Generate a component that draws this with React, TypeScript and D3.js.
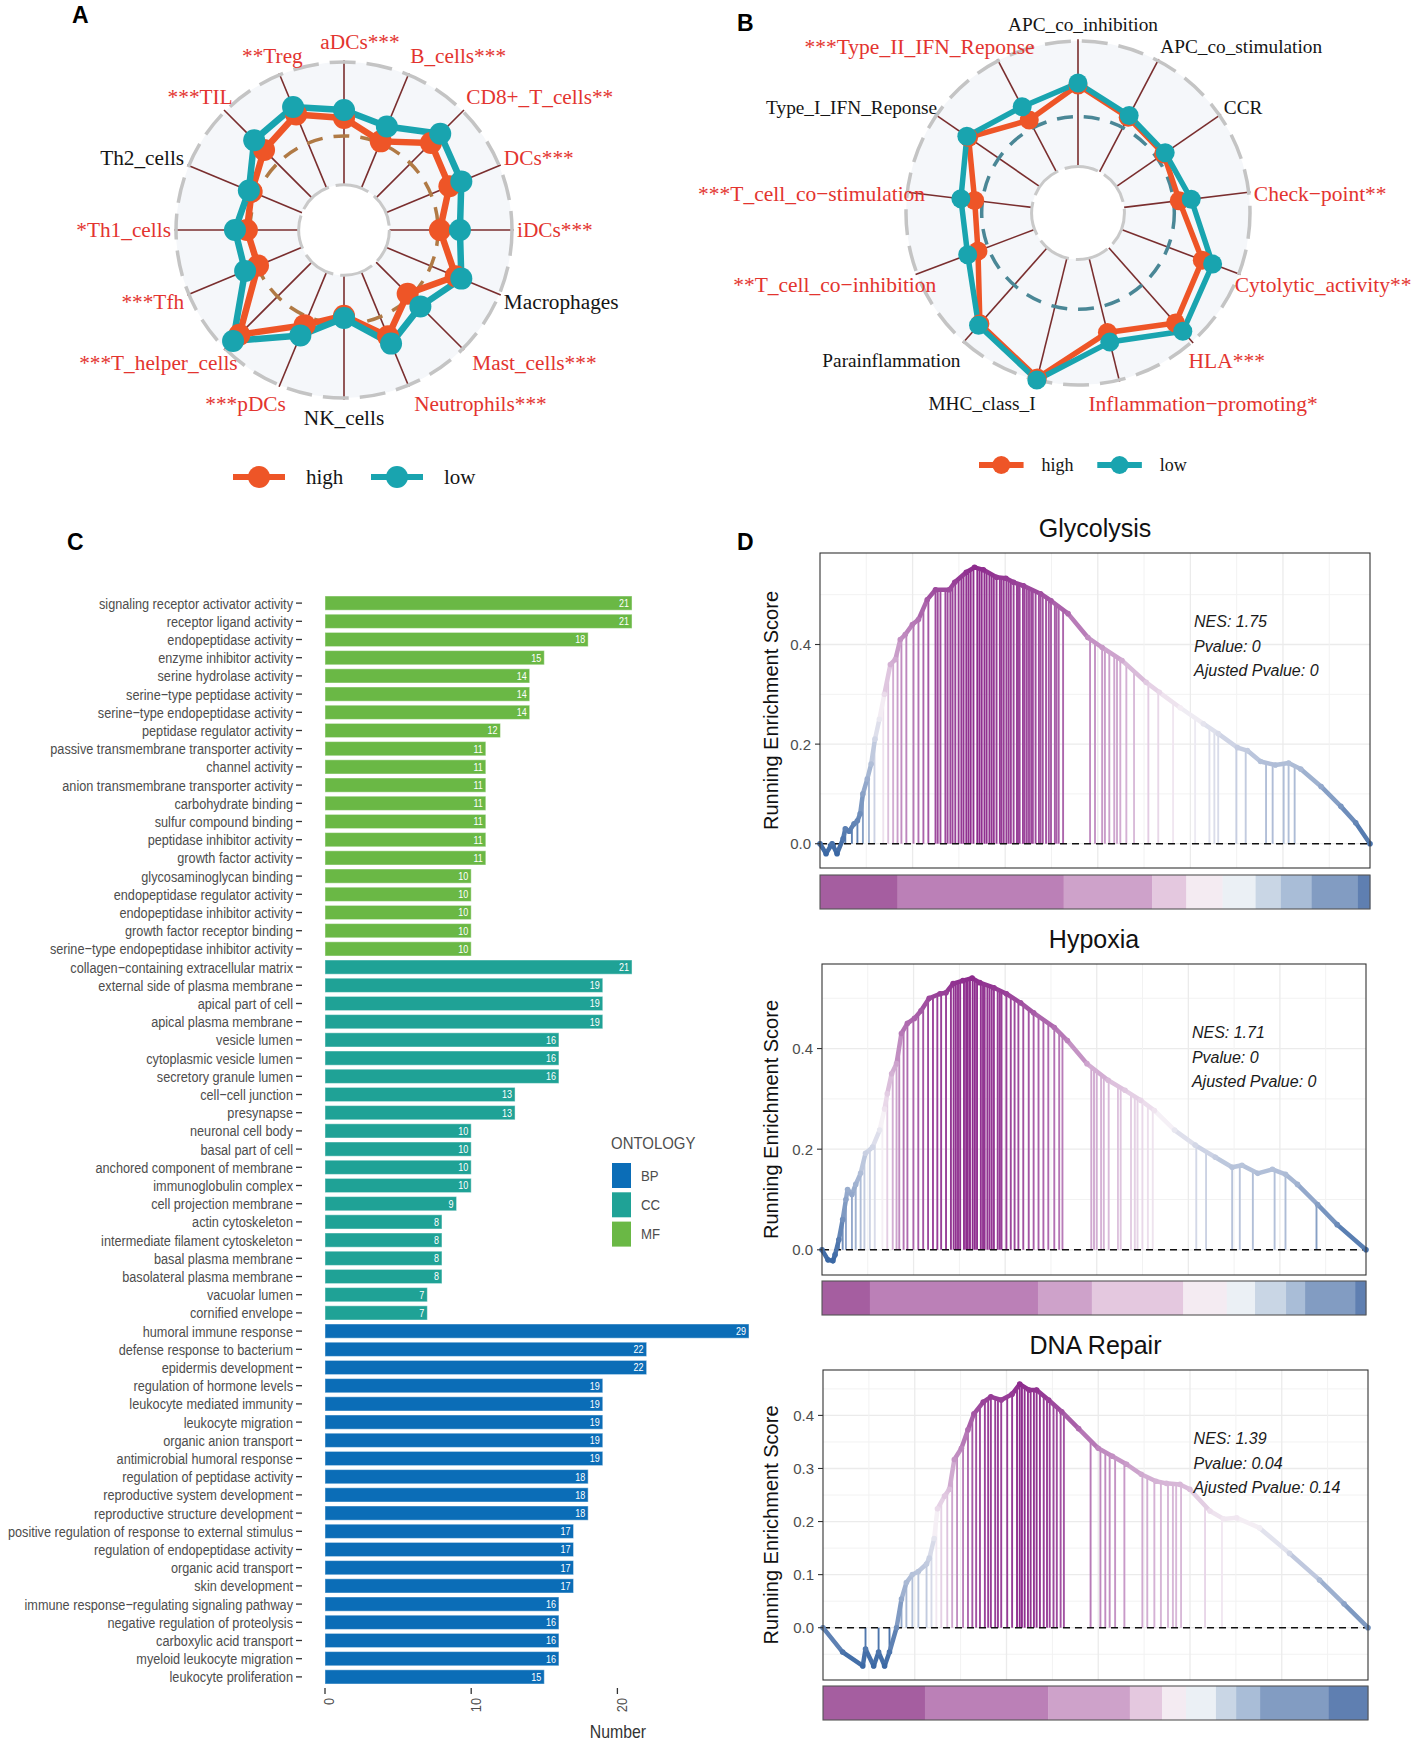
import React from "react";
import * as d3 from "d3";

const W = 1417;
const H = 1741;
const SERIF = "'Liberation Serif', 'Times New Roman', serif";
const SANS = "'Liberation Sans', Arial, sans-serif";
const HIGH = "#EE5527";
const LOW = "#19A4AF";
const RED = "#E3342F";

// ---------- A: immune cells (radius as fraction of outer ring)
const immuneCells = [
  "aDCs***", "B_cells***", "CD8+_T_cells**", "DCs***", "iDCs***", "Macrophages",
  "Mast_cells***", "Neutrophils***", "NK_cells", "***pDCs", "***T_helper_cells",
  "***Tfh", "*Th1_cells", "Th2_cells", "***TIL", "**Treg",
];
const immuneHigh = [0.667, 0.571, 0.732, 0.679, 0.571, 0.72, 0.536, 0.685, 0.51, 0.613, 0.881, 0.554, 0.578, 0.595, 0.673, 0.744];
const immuneLow = [0.714, 0.667, 0.81, 0.756, 0.69, 0.756, 0.643, 0.732, 0.524, 0.679, 0.934, 0.637, 0.649, 0.613, 0.756, 0.792];

// ---------- B: immune functions
const immuneFunctions = [
  "APC_co_inhibition", "APC_co_stimulation", "CCR", "Check−point**", "Cytolytic_activity**",
  "HLA***", "Inflammation−promoting*", "MHC_class_I", "Parainflammation",
  "**T_cell_co−inhibition", "***T_cell_co−stimulation", "Type_I_IFN_Reponse", "***Type_II_IFN_Reponse",
];
const functionHigh = [0.744, 0.628, 0.605, 0.593, 0.773, 0.855, 0.715, 0.988, 0.86, 0.622, 0.605, 0.773, 0.61];
const functionLow = [0.756, 0.64, 0.616, 0.663, 0.837, 0.919, 0.773, 1.0, 0.872, 0.686, 0.686, 0.785, 0.698];

// ---------- C: GO enrichment
const mfTerms = [
  "signaling receptor activator activity", "receptor ligand activity", "endopeptidase activity",
  "enzyme inhibitor activity", "serine hydrolase activity", "serine−type peptidase activity",
  "serine−type endopeptidase activity", "peptidase regulator activity",
  "passive transmembrane transporter activity", "channel activity",
  "anion transmembrane transporter activity", "carbohydrate binding", "sulfur compound binding",
  "peptidase inhibitor activity", "growth factor activity", "glycosaminoglycan binding",
  "endopeptidase regulator activity", "endopeptidase inhibitor activity",
  "growth factor receptor binding", "serine−type endopeptidase inhibitor activity",
];
const mfCounts = [21, 21, 18, 15, 14, 14, 14, 12, 11, 11, 11, 11, 11, 11, 11, 10, 10, 10, 10, 10];
const ccTerms = [
  "collagen−containing extracellular matrix", "external side of plasma membrane", "apical part of cell",
  "apical plasma membrane", "vesicle lumen", "cytoplasmic vesicle lumen", "secretory granule lumen",
  "cell−cell junction", "presynapse", "neuronal cell body", "basal part of cell",
  "anchored component of membrane", "immunoglobulin complex", "cell projection membrane",
  "actin cytoskeleton", "intermediate filament cytoskeleton", "basal plasma membrane",
  "basolateral plasma membrane", "vacuolar lumen", "cornified envelope",
];
const ccCounts = [21, 19, 19, 19, 16, 16, 16, 13, 13, 10, 10, 10, 10, 9, 8, 8, 8, 8, 7, 7];
const bpTerms = [
  "humoral immune response", "defense response to bacterium", "epidermis development",
  "regulation of hormone levels", "leukocyte mediated immunity", "leukocyte migration",
  "organic anion transport", "antimicrobial humoral response", "regulation of peptidase activity",
  "reproductive system development", "reproductive structure development",
  "positive regulation of response to external stimulus", "regulation of endopeptidase activity",
  "organic acid transport", "skin development", "immune response−regulating signaling pathway",
  "negative regulation of proteolysis", "carboxylic acid transport", "myeloid leukocyte migration",
  "leukocyte proliferation",
];
const bpCounts = [29, 22, 22, 19, 19, 19, 19, 19, 18, 18, 18, 17, 17, 17, 17, 16, 16, 16, 16, 15];
const ontologies = ["BP", "CC", "MF"];
const ontologyColors = ["#0B6DB7", "#1FA296", "#6AB845"];
const countTicks = [0, 10, 20];

// ---------- D: GSEA (x = % of ranked list, y = running ES)
const rankedGenes = 11880;
const gseaTitles = ["Glycolysis", "Hypoxia", "DNA Repair"];
const gseaNES = ["1.75", "1.71", "1.39"];
const gseaPvalue = ["0", "0", "0.04"];
const gseaPadj = ["0", "0", "0.14"];

const glycolysisCurve = [
  [0, 0], [1.1, -0.02], [2.2, 0], [3.1, -0.02], [4.2, 0.01], [4.6, 0.03], [5.3, 0.025], [6.2, 0.04],
  [6.8, 0.046], [7.3, 0.06], [7.8, 0.1], [8.6, 0.13], [9.3, 0.16], [10.0, 0.21], [10.8, 0.25],
  [11.7, 0.3], [12.8, 0.36], [13.7, 0.37], [14.6, 0.41], [15.5, 0.42], [16.8, 0.44], [17.9, 0.45],
  [19.5, 0.49], [21.0, 0.51], [23.5, 0.51], [24.5, 0.525], [26.6, 0.545], [28.1, 0.555], [29.7, 0.55],
  [32.1, 0.535], [33.8, 0.533], [35.2, 0.525], [37.0, 0.518], [40.1, 0.502], [42.0, 0.488],
  [45.1, 0.462], [48.7, 0.414], [51.3, 0.394], [54.9, 0.368], [59.3, 0.324], [61.7, 0.304],
  [65.5, 0.273], [69.7, 0.241], [72.4, 0.221], [75.9, 0.193], [77.7, 0.187], [80.1, 0.165],
  [82.8, 0.158], [85.2, 0.162], [87.4, 0.15], [91.1, 0.115], [94.7, 0.075], [97.4, 0.042], [100, 0],
];
const glycolysisHits = [
  1.6, 2.7, 3.8, 4.6, 5.8, 6.8, 7.8, 8.9, 9.9, 11.5, 12.4, 13.3, 14.1, 14.8, 15.7, 17.0, 17.9, 18.8,
  19.7, 21.0, 21.4, 21.9, 22.8, 23.2, 23.7, 24.1, 24.6, 25.2, 25.7, 26.1, 26.6, 27.0, 27.4, 27.9, 28.6,
  29.0, 29.4, 29.9, 30.3, 30.8, 31.2, 31.6, 32.1, 32.7, 33.0, 33.4, 33.9, 34.3, 34.7, 35.2, 35.8, 36.0,
  36.3, 36.9, 37.2, 37.6, 38.0, 38.4, 38.7, 39.2, 39.8, 40.1, 40.5, 41.1, 41.6, 42.0, 42.7, 43.0, 43.4,
  44.2, 49.1, 50.0, 51.3, 51.8, 52.6, 53.5, 54.0, 54.6, 55.7, 57.1, 59.7, 61.5, 64.2, 68.2, 70.8, 71.7,
  72.4, 75.7, 77.4, 81.1, 82.3, 84.3, 85.2, 86.3,
];
const glycolysisBreaks = [0, 14.1, 44.3, 60.4, 66.6, 73.2, 79.2, 83.8, 89.4, 97.8, 100];

const hypoxiaCurve = [
  [0, 0], [1.1, -0.02], [2.0, -0.022], [2.4, -0.01], [3.1, 0.02], [3.8, 0.06], [4.4, 0.1], [4.7, 0.12],
  [5.5, 0.11], [6.2, 0.13], [7.1, 0.152], [8.0, 0.192], [9.3, 0.204], [10.6, 0.238], [11.5, 0.28],
  [12.0, 0.31], [12.8, 0.35], [13.7, 0.37], [14.6, 0.43], [15.7, 0.45], [17.0, 0.46], [18.2, 0.475],
  [19.7, 0.5], [21.7, 0.509], [22.8, 0.511], [24.1, 0.529], [25.9, 0.535], [27.6, 0.54], [29.0, 0.531],
  [31.6, 0.521], [33.9, 0.509], [36.5, 0.491], [38.9, 0.471], [42.7, 0.442], [45.1, 0.416],
  [48.7, 0.37], [52.6, 0.337], [55.7, 0.317], [58.6, 0.297], [61.1, 0.277], [64.8, 0.238],
  [68.6, 0.208], [72.3, 0.184], [75.4, 0.164], [77.2, 0.168], [80.1, 0.152], [82.8, 0.16],
  [85.2, 0.15], [87.4, 0.13], [91.1, 0.09], [94.7, 0.05], [100, 0],
];
const hypoxiaHits = [
  2.4, 3.1, 3.8, 4.4, 5.5, 6.2, 7.1, 7.8, 8.8, 9.7, 11.1, 12.0, 13.0, 13.7, 14.2, 15.0, 15.7, 16.8, 17.7,
  18.6, 19.5, 20.4, 21.2, 21.9, 22.8, 23.7, 24.2, 24.6, 25.0, 25.4, 26.1, 26.5, 26.8, 27.2, 27.7, 28.1,
  28.5, 29.2, 29.6, 29.9, 30.4, 30.8, 31.2, 31.6, 32.3, 32.7, 33.0, 33.9, 34.7, 35.4, 36.1, 37.0, 38.0,
  38.9, 39.8, 40.7, 41.6, 42.7, 43.6, 44.2, 49.5, 50.0, 50.5, 51.3, 51.8, 52.7, 54.4, 54.9, 56.8, 57.5,
  58.0, 58.9, 59.9, 60.8, 68.8, 70.6, 75.4, 76.8, 79.2, 83.2, 85.2, 90.9,
];
const hypoxiaBreaks = [0, 8.8, 39.7, 49.6, 66.4, 74.4, 79.6, 85.3, 88.8, 98.0, 100];

const dnaRepairCurve = [
  [0, 0], [3.6, -0.046], [7.3, -0.072], [7.8, -0.04], [9.3, -0.072], [10.2, -0.046], [11.3, -0.072],
  [12.2, -0.046], [13.5, 0], [14.4, 0.054], [15.3, 0.085], [16.4, 0.1], [17.5, 0.106], [19.0, 0.12],
  [19.5, 0.131], [20.4, 0.168], [21.0, 0.224], [22.3, 0.248], [23.2, 0.261], [24.1, 0.317],
  [25.4, 0.338], [26.6, 0.373], [27.7, 0.403], [29.4, 0.425], [30.8, 0.435], [32.7, 0.429],
  [34.7, 0.44], [36.1, 0.459], [37.8, 0.448], [39.2, 0.448], [41.4, 0.429], [43.8, 0.407],
  [46.9, 0.375], [50.5, 0.338], [53.1, 0.323], [55.7, 0.308], [58.4, 0.289], [61.1, 0.276],
  [63.0, 0.272], [65.5, 0.27], [67.3, 0.261], [71.0, 0.22], [73.5, 0.205], [75.9, 0.207],
  [80.1, 0.188], [85.6, 0.14], [91.1, 0.09], [95.6, 0.045], [100, 0],
];
const dnaRepairHits = [
  7.8, 10.2, 12.2, 13.5, 14.4, 15.3, 16.4, 17.5, 19.0, 19.9, 20.8, 21.7, 22.8, 23.7, 24.6, 25.7, 26.6,
  27.4, 28.1, 28.8, 29.7, 30.3, 30.8, 31.6, 32.1, 32.7, 33.8, 34.7, 35.6, 36.1, 36.5, 37.0, 37.6, 38.1,
  38.7, 39.2, 39.8, 40.5, 41.1, 41.6, 42.3, 42.9, 43.6, 44.2, 49.1, 50.9, 51.8, 52.6, 53.6, 55.3, 58.6,
  59.5, 60.8, 62.0, 63.3, 64.2, 64.8, 65.7, 70.1, 73.2,
];
const dnaRepairBreaks = [0, 18.7, 41.3, 56.3, 62.2, 66.6, 72.1, 75.8, 80.2, 92.8, 100];

const metricColors = ["#A55EA0", "#BB80B7", "#CEA2CA", "#E4C8DF", "#F4EBF2", "#EBF0F5", "#C9D6E5", "#A9BDD7", "#829CC2", "#5F7FB1"];

// ---------------------------------------------------------------------------
// radar layout helpers
const radarGrid = [0.27, 0.56, 1];
// hand tweaks of label placement (px), the original figure nudged a few names
const labelNudge = {
  "aDCs***": 16, "Mast_cells***": 6, "Neutrophils***": 4, "***pDCs": 8, "***T_helper_cells": 16,
  "***TIL": 11, "**Treg": 25,
  "APC_co_inhibition": 5, "HLA***": -7, "Inflammation−promoting*": -32, "**T_cell_co−inhibition": 24,
  "***T_cell_co−stimulation": 23, "Type_I_IFN_Reponse": 5, "***Type_II_IFN_Reponse": 39,
  "Cytolytic_activity**": -9,
};

function Radar({ cx, cy, R, labels, high, low, midColor, fontSize, redSize, dotR, lineW, yShift = 0 }) {
  const n = labels.length;
  const angle = d3.scaleLinear().domain([0, n]).range([0, 2 * Math.PI]);
  const radius = d3.scaleLinear().domain([0, 1]).range([0, R]);
  const at = (i, v) => [cx + radius(v) * Math.sin(angle(i)), cy - radius(v) * Math.cos(angle(i))];
  const ring = d3.line().curve(d3.curveLinearClosed);
  const series = [
    { vals: high, color: HIGH },
    { vals: low, color: LOW },
  ];
  return (
    <g>
      <circle cx={cx} cy={cy} r={radius(1)} fill="#F5F7FA" />
      {labels.map((_, i) => {
        const [x1, y1] = at(i, radarGrid[0]);
        const [x2, y2] = at(i, 1.01);
        return <line key={i} x1={x1} y1={y1} x2={x2} y2={y2} stroke="#7A2E2E" strokeWidth={1.6} />;
      })}
      <circle cx={cx} cy={cy} r={radius(radarGrid[0])} fill="#fff" stroke="#C9C9C9" strokeWidth={3} strokeDasharray="34 7" />
      <circle cx={cx} cy={cy} r={radius(radarGrid[1])} fill="none" stroke={midColor} strokeWidth={3.5} strokeDasharray="16 11" />
      <circle cx={cx} cy={cy} r={radius(radarGrid[2])} fill="none" stroke="#C4C4C4" strokeWidth={3.5} strokeDasharray="26 11" />
      {series.map((s, k) => (
        <path key={k} d={ring(s.vals.map((v, i) => at(i, v)))} fill="none" stroke={s.color} strokeWidth={lineW} strokeLinejoin="round" />
      ))}
      {series.map((s, k) =>
        s.vals.map((v, i) => {
          const [x, y] = at(i, v);
          return <circle key={k + "-" + i} cx={x} cy={y} r={dotR} fill={s.color} />;
        })
      )}
      {labels.map((lab, i) => {
        const s = Math.sin(angle(i));
        const c = Math.cos(angle(i));
        const x = cx + R * 1.03 * s + (labelNudge[lab] || 0);
        const y = cy - (R * 1.06 + 10) * c + yShift;
        const anchor = s > 0.05 ? "start" : s < -0.05 ? "end" : "middle";
        const sig = lab.includes("*");
        return (
          <text key={lab} x={x} y={y} textAnchor={anchor} dominantBaseline="central"
            fontFamily={SERIF} fontSize={sig ? redSize : fontSize} fill={sig ? RED : "#151515"}>
            {lab}
          </text>
        );
      })}
    </g>
  );
}

function RadarLegend({ x0, y, fontSize, dotR }) {
  const items = [
    { name: "high", color: HIGH, dx: 0 },
    { name: "low", color: LOW, dx: 138 * (fontSize / 21) },
  ];
  const seg = 52 * (fontSize / 21);
  return (
    <g>
      {items.map((it) => (
        <g key={it.name} transform={`translate(${x0 + it.dx},${y})`}>
          <line x1={0} x2={seg} y1={0} y2={0} stroke={it.color} strokeWidth={6} />
          <circle cx={seg / 2} cy={0} r={dotR} fill={it.color} />
          <text x={seg + 21 * (fontSize / 21)} y={0} dominantBaseline="central" fontFamily={SERIF} fontSize={fontSize} fill="#151515">
            {it.name}
          </text>
        </g>
      ))}
    </g>
  );
}

function Narrow({ x, y, anchor = "end", size, fill, sx = 0.82, children }) {
  return (
    <text transform={`translate(${x},${y}) scale(${sx},1)`} textAnchor={anchor} dominantBaseline="central"
      fontFamily={SANS} fontSize={size} fill={fill}>
      {children}
    </text>
  );
}

function GoBars() {
  const rows = [
    ...mfTerms.map((t, i) => ({ term: t, n: mfCounts[i], ont: "MF" })),
    ...ccTerms.map((t, i) => ({ term: t, n: ccCounts[i], ont: "CC" })),
    ...bpTerms.map((t, i) => ({ term: t, n: bpCounts[i], ont: "BP" })),
  ];
  const y = d3.scaleBand().domain(rows.map((_, i) => String(i))).range([592, 1688]).padding(0.22);
  const x = d3.scaleLinear().domain([0, 20]).range([325, 617.4]);
  const color = d3.scaleOrdinal().domain(ontologies).range(ontologyColors);
  const axisY = 1688;
  return (
    <g>
      {rows.map((r, i) => {
        const yc = y(String(i)) + y.bandwidth() / 2;
        return (
          <g key={i}>
            <rect x={x(0)} y={y(String(i))} width={x(r.n) - x(0)} height={y.bandwidth()} fill={color(r.ont)}
              stroke="rgba(255,255,255,0.45)" strokeWidth={1} />
            <Narrow x={x(r.n) - 3} y={yc} size={11} fill="#fff">{r.n}</Narrow>
            <line x1={296} x2={302} y1={yc} y2={yc} stroke="#333" strokeWidth={1.3} />
            <Narrow x={293} y={yc} size={15.5} fill="#4D4D4D">{r.term}</Narrow>
          </g>
        );
      })}
      {countTicks.map((t) => (
        <g key={t}>
          <line x1={x(t)} x2={x(t)} y1={axisY} y2={axisY + 6} stroke="#333" strokeWidth={1.3} />
          <text transform={`translate(${x(t) + 4},${axisY + 10}) rotate(-90) scale(0.85,1)`} textAnchor="end"
            dominantBaseline="central" fontFamily={SANS} fontSize={15} fill="#4D4D4D">{t}</text>
        </g>
      ))}
      <Narrow x={618} y={1732} anchor="middle" size={18} fill="#333" sx={0.88}>Number</Narrow>
      <Narrow x={611} y={1143} anchor="start" size={17} fill="#4D4D4D" sx={0.88}>ONTOLOGY</Narrow>
      {ontologies.map((o, i) => (
        <g key={o}>
          <rect x={612} y={1163 + i * 29.3} width={19} height={25} fill={color(o)} />
          <Narrow x={641} y={1175.5 + i * 29.3} anchor="start" size={15} fill="#4D4D4D" sx={0.88}>{o}</Narrow>
        </g>
      ))}
    </g>
  );
}

function Gsea({ k, curve, hits, breaks, left, width, top, height, barTop, barH, tickCount }) {
  const es = curve.map((d) => d[1]);
  const [lo, hi] = d3.extent(es);
  const pad = (hi - lo) * 0.05;
  const x = d3.scaleLinear().domain([0, 100]).range([left, left + width]);
  const y = d3.scaleLinear().domain([lo - pad, hi + pad]).range([top + height, top]);
  const col = d3.scaleLinear().domain([lo, (lo + hi) / 2, hi]).range(["#3B68A4", "#F6F1F6", "#8D2B8D"]).interpolate(d3.interpolateRgb);
  const bis = d3.bisector((d) => d[0]).right;
  const esAt = (p) => {
    const i = Math.min(Math.max(bis(curve, p), 1), curve.length - 1);
    const a = curve[i - 1], b = curve[i];
    return a[1] + ((p - a[0]) / (b[0] - a[0])) * (b[1] - a[1]);
  };
  const majors = y.ticks(tickCount);
  const step = majors[1] - majors[0];
  const minors = [majors[0] - step / 2, ...majors.map((t) => t + step / 2)].filter((t) => t > y.domain()[0] && t < y.domain()[1]);
  const rankGrid = d3.range(1000, rankedGenes, 1000);
  const rankPct = (r) => (r / rankedGenes) * 100;
  const fmt = d3.format(".1f");
  return (
    <g>
      <text x={left + width / 2} y={top - 16} textAnchor="middle" fontFamily={SANS} fontSize={25} fill="#111">{gseaTitles[k]}</text>
      <rect x={left} y={top} width={width} height={height} fill="#fff" />
      {minors.map((t) => (
        <line key={"mn" + t} x1={left} x2={left + width} y1={y(t)} y2={y(t)} stroke="#F2F2F2" strokeWidth={1} />
      ))}
      {majors.map((t) => (
        <line key={"mj" + t} x1={left} x2={left + width} y1={y(t)} y2={y(t)} stroke="#EBEBEB" strokeWidth={1.3} />
      ))}
      {rankGrid.map((r) => (
        <line key={"v" + r} x1={x(rankPct(r))} x2={x(rankPct(r))} y1={top} y2={top + height}
          stroke={r % 2000 === 0 ? "#EBEBEB" : "#F2F2F2"} strokeWidth={r % 2000 === 0 ? 1.3 : 1} />
      ))}
      {hits.map((h, i) => {
        const v = esAt(h);
        return <line key={"h" + i} x1={x(h)} x2={x(h)} y1={y(0)} y2={y(v)} stroke={col(v)} strokeWidth={1.9} />;
      })}
      <line x1={left} x2={left + width} y1={y(0)} y2={y(0)} stroke="#111" strokeWidth={1.6} strokeDasharray="7 5" />
      {curve.slice(1).map((d, i) => {
        const a = curve[i];
        return <line key={"c" + i} x1={x(a[0])} y1={y(a[1])} x2={x(d[0])} y2={y(d[1])}
          stroke={col((a[1] + d[1]) / 2)} strokeWidth={4.5} strokeLinecap="round" />;
      })}
      {curve.map((d, i) => (
        <circle key={"p" + i} cx={x(d[0])} cy={y(d[1])} r={2.8} fill={col(d[1])} />
      ))}
      <rect x={left} y={top} width={width} height={height} fill="none" stroke="#333" strokeWidth={1.1} />
      {majors.map((t) => (
        <g key={"t" + t}>
          <line x1={left - 5} x2={left} y1={y(t)} y2={y(t)} stroke="#333" strokeWidth={1.1} />
          <text x={left - 9} y={y(t)} textAnchor="end" dominantBaseline="central" fontFamily={SANS} fontSize={15} fill="#4D4D4D">{fmt(t)}</text>
        </g>
      ))}
      <text transform={`translate(${771},${top + height / 2}) rotate(-90)`} textAnchor="middle" dominantBaseline="central"
        fontFamily={SANS} fontSize={20} fill="#111">Running Enrichment Score</text>
      <g fontFamily={SANS} fontSize={16} fontStyle="italic" fill="#1A1A1A">
        <text x={left + width * 0.68} y={top + 74}>{`NES: ${gseaNES[k]}`}</text>
        <text x={left + width * 0.68} y={top + 98.5}>{`Pvalue: ${gseaPvalue[k]}`}</text>
        <text x={left + width * 0.68} y={top + 123}>{`Ajusted Pvalue: ${gseaPadj[k]}`}</text>
      </g>
      {breaks.slice(1).map((b, i) => (
        <rect key={"b" + i} x={x(breaks[i])} y={barTop} width={x(b) - x(breaks[i]) + 0.3} height={barH} fill={metricColors[i]} />
      ))}
      <rect x={left} y={barTop} width={width} height={barH} fill="none" stroke="#555" strokeWidth={1.1} />
    </g>
  );
}

function PanelTag({ x, y, children }) {
  return (
    <text x={x} y={y} fontFamily={SANS} fontWeight="bold" fontSize={23} fill="#000">{children}</text>
  );
}

export default function App() {
  return (
    <svg width={W} height={H} viewBox={`0 0 ${W} ${H}`} style={{ position: "absolute", left: 0, top: 0, background: "#fff" }}>
      <rect width={W} height={H} fill="#fff" />
      <PanelTag x={72} y={23}>A</PanelTag>
      <Radar cx={344} cy={230} R={168} labels={immuneCells} high={immuneHigh} low={immuneLow}
        midColor="#B07A45" fontSize={21.3} redSize={21.3} dotR={11} lineW={6.5} />
      <RadarLegend x0={233} y={477} fontSize={21} dotR={11} />

      <PanelTag x={737} y={31}>B</PanelTag>
      <Radar cx={1078} cy={213} R={172} labels={immuneFunctions} high={functionHigh} low={functionLow}
        midColor="#4A8796" fontSize={19.3} redSize={21.5} dotR={9.5} lineW={5.5} yShift={4} />
      <RadarLegend x0={979} y={465} fontSize={18} dotR={9} />

      <PanelTag x={67} y={550}>C</PanelTag>
      <GoBars />

      <PanelTag x={737} y={550}>D</PanelTag>
      <Gsea k={0} curve={glycolysisCurve} hits={glycolysisHits} breaks={glycolysisBreaks}
        left={820} width={550} top={553} height={315} barTop={875} barH={34} tickCount={3} />
      <Gsea k={1} curve={hypoxiaCurve} hits={hypoxiaHits} breaks={hypoxiaBreaks}
        left={822} width={544} top={964} height={311} barTop={1281} barH={34} tickCount={3} />
      <Gsea k={2} curve={dnaRepairCurve} hits={dnaRepairHits} breaks={dnaRepairBreaks}
        left={823} width={545} top={1370} height={310} barTop={1686} barH={34} tickCount={5} />
    </svg>
  );
}
